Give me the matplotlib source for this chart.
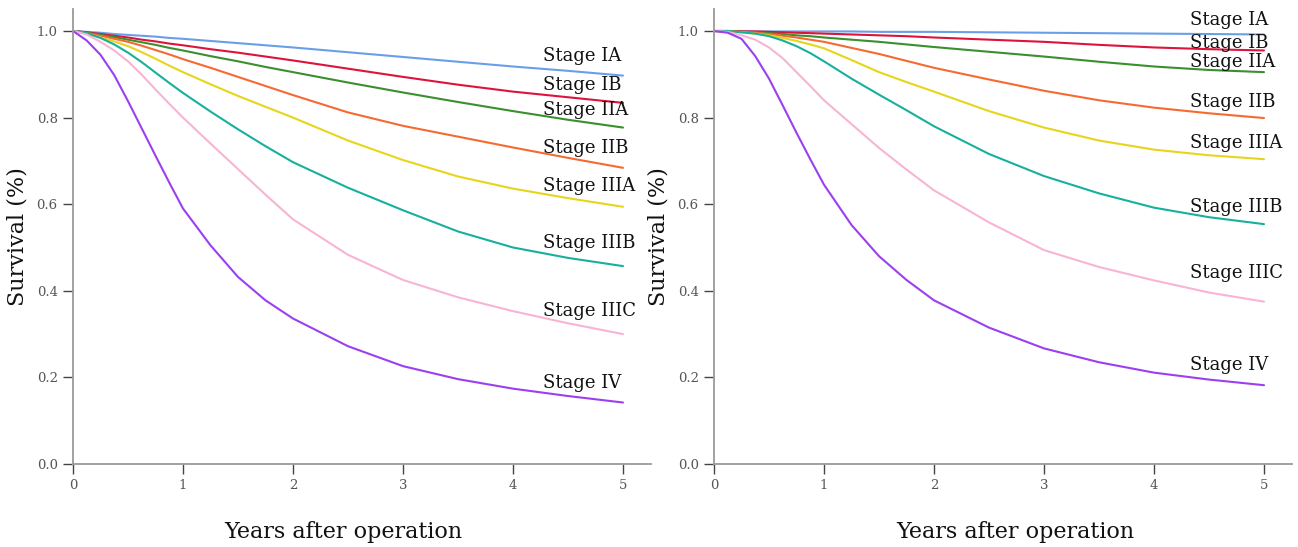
import matplotlib
matplotlib.use("Agg")
import matplotlib.pyplot as plt

# ---------------- data ----------------
stages = ["Stage IA", "Stage IB", "Stage IIA", "Stage IIB",
          "Stage IIIA", "Stage IIIB", "Stage IIIC", "Stage IV"]
colors = ["#6A9FE8", "#DC143C", "#3A8F2E", "#F66A32",
          "#E6D51B", "#17B09C", "#F8B4D4", "#9B3FF0"]

years = [0, 0.125, 0.25, 0.375, 0.5, 0.625, 0.75, 0.875, 1,
         1.25, 1.5, 1.75, 2, 2.5, 3, 3.5, 4, 4.5, 5]

# Left panel survival
left_IA   = [1.0, 0.998, 0.996, 0.993, 0.991, 0.989, 0.987, 0.984, 0.982,
             0.977, 0.972, 0.967, 0.962, 0.951, 0.940, 0.929, 0.918, 0.908, 0.897]
left_IB   = [1.0, 0.997, 0.993, 0.989, 0.985, 0.980, 0.976, 0.971, 0.967,
             0.958, 0.950, 0.941, 0.932, 0.913, 0.894, 0.876, 0.860, 0.847, 0.834]
left_IIA  = [1.0, 0.996, 0.991, 0.986, 0.980, 0.974, 0.968, 0.961, 0.955,
             0.942, 0.930, 0.917, 0.905, 0.881, 0.858, 0.836, 0.815, 0.795, 0.777]
left_IIB  = [1.0, 0.995, 0.989, 0.982, 0.975, 0.966, 0.956, 0.946, 0.935,
             0.915, 0.894, 0.873, 0.852, 0.812, 0.781, 0.756, 0.731, 0.707, 0.684]
left_IIIA = [1.0, 0.994, 0.985, 0.976, 0.965, 0.951, 0.936, 0.920, 0.905,
             0.877, 0.850, 0.825, 0.800, 0.747, 0.702, 0.664, 0.636, 0.614, 0.594]
left_IIIB = [1.0, 0.995, 0.984, 0.969, 0.950, 0.928, 0.904, 0.880, 0.857,
             0.814, 0.773, 0.734, 0.697, 0.638, 0.586, 0.537, 0.500, 0.476, 0.457]
left_IIIC = [1.0, 0.992, 0.975, 0.955, 0.930, 0.899, 0.865, 0.832, 0.800,
             0.740, 0.681, 0.622, 0.565, 0.483, 0.425, 0.385, 0.353, 0.325, 0.300]
left_IV   = [1.0, 0.978, 0.945, 0.898, 0.838, 0.775, 0.712, 0.650, 0.590,
             0.505, 0.432, 0.378, 0.336, 0.272, 0.226, 0.196, 0.174, 0.157, 0.142]

# Right panel survival
right_IA   = [1.0, 1.0, 1.0, 0.999, 0.999, 0.999, 0.999, 0.999, 0.999,
              0.999, 0.998, 0.998, 0.998, 0.997, 0.996, 0.995, 0.994, 0.993, 0.992]
right_IB   = [1.0, 1.0, 0.999, 0.999, 0.998, 0.997, 0.996, 0.995, 0.994,
              0.992, 0.990, 0.988, 0.985, 0.980, 0.975, 0.968, 0.962, 0.958, 0.955]
right_IIA  = [1.0, 1.0, 0.998, 0.997, 0.995, 0.993, 0.990, 0.988, 0.985,
              0.980, 0.975, 0.969, 0.963, 0.952, 0.941, 0.929, 0.918, 0.910, 0.905]
right_IIB  = [1.0, 0.999, 0.998, 0.996, 0.993, 0.989, 0.985, 0.980, 0.975,
              0.961, 0.947, 0.931, 0.915, 0.888, 0.862, 0.840, 0.823, 0.810, 0.799]
right_IIIA = [1.0, 0.999, 0.997, 0.994, 0.990, 0.984, 0.977, 0.969, 0.960,
              0.933, 0.905, 0.882, 0.860, 0.815, 0.777, 0.747, 0.726, 0.713, 0.704]
right_IIIB = [1.0, 1.0, 0.997, 0.994, 0.988, 0.978, 0.965, 0.949, 0.930,
              0.890, 0.853, 0.817, 0.780, 0.716, 0.665, 0.625, 0.592, 0.570, 0.554]
right_IIIC = [1.0, 0.998, 0.990, 0.980, 0.962, 0.937, 0.905, 0.873, 0.840,
              0.785, 0.730, 0.680, 0.632, 0.558, 0.494, 0.455, 0.424, 0.396, 0.375]
right_IV   = [1.0, 0.996, 0.982, 0.942, 0.890, 0.828, 0.765, 0.704, 0.645,
              0.552, 0.480, 0.425, 0.378, 0.315, 0.267, 0.235, 0.211, 0.195, 0.182]

left_series = [left_IA, left_IB, left_IIA, left_IIB, left_IIIA, left_IIIB, left_IIIC, left_IV]
right_series = [right_IA, right_IB, right_IIA, right_IIB, right_IIIA, right_IIIB, right_IIIC, right_IV]

# label anchor positions (x in years, y in survival)
left_label_x = 4.27
left_label_y = [0.942, 0.875, 0.818, 0.730, 0.642, 0.510, 0.353, 0.188]
right_label_x = 4.33
right_label_y = [1.025, 0.973, 0.929, 0.837, 0.742, 0.594, 0.440, 0.229]

xticks = [0, 1, 2, 3, 4, 5]
yticks = [0.0, 0.2, 0.4, 0.6, 0.8, 1.0]
ytick_labels = ["0.0", "0.2", "0.4", "0.6", "0.8", "1.0"]

# ---------------- figure ----------------
W, H = 1298, 547
fig = plt.figure(figsize=(W / 100, H / 100), dpi=100)

ax_w = 577.5 / W
ax_h = 433 * 1.05 / H
ax_b = (H - 464) / H
axes = [fig.add_axes([73 / W, ax_b, ax_w, ax_h]),
        fig.add_axes([714 / W, ax_b, ax_w, ax_h])]
xlabel_x = [0.4675, 0.521]

serif = "DejaVu Serif"

for ax, series, lx, lys, xlx in [(axes[0], left_series, left_label_x, left_label_y, xlabel_x[0]),
                                 (axes[1], right_series, right_label_x, right_label_y, xlabel_x[1])]:
    for name, col, vals, ly in zip(stages, colors, series, lys):
        ax.plot(years, vals, color=col, lw=1.5, solid_joinstyle="round",
                solid_capstyle="round")
        ax.text(lx, ly, name, color="#111111", fontsize=13, family=serif,
                ha="left", va="center")
    ax.set_xlim(0, 5.25)
    ax.set_ylim(0, 1.05)
    ax.set_xticks(xticks)
    ax.set_xticklabels([str(t) for t in xticks])
    ax.set_yticks(yticks)
    ax.set_yticklabels(ytick_labels)
    for s in ["top", "right"]:
        ax.spines[s].set_visible(False)
    for s in ["left", "bottom"]:
        ax.spines[s].set_color("#9a9a9a")
        ax.spines[s].set_linewidth(1.3)
    ax.tick_params(axis="both", direction="out", length=7, width=1.0,
                   color="#444444", labelcolor="#555555", labelsize=9.5, pad=4)
    for lab in ax.get_xticklabels() + ax.get_yticklabels():
        lab.set_family(serif)
    ax.set_xlabel("Years after operation", family=serif, fontsize=16,
                  color="#111111")
    ax.xaxis.set_label_coords(xlx, -0.125)
    ax.set_ylabel("Survival (%)", family=serif, fontsize=16,
                  color="#111111", labelpad=6)

fig.savefig("out.png", dpi=100, facecolor="white")
